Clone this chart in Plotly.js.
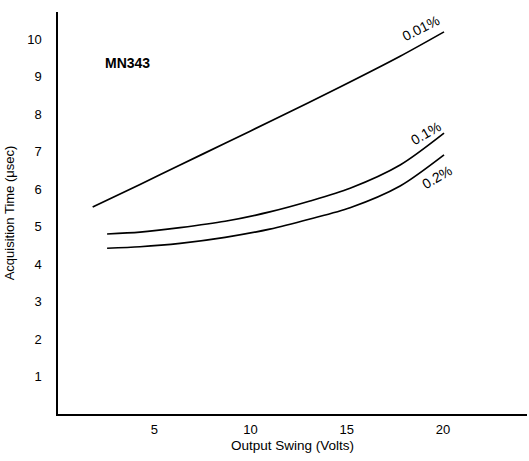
<!DOCTYPE html>
<html>
<head>
<meta charset="utf-8">
<script src="https://cdn.plot.ly/plotly-3.0.1.min.js"></script>
<style>
html,body{margin:0;padding:0;background:#fff;}
#chart{width:529px;height:461px;}
</style>
</head>
<body>
<div id="chart"></div>
<script>
// Output swing (V) vs acquisition time (µs), MN343
const x001 = [1.8, 4.26, 6.34, 8.68, 11.17, 14.65, 17.77, 20.05];
const y001 = [5.52, 6.12, 6.64, 7.22, 7.84, 8.72, 9.54, 10.19];
const x01 = [2.55, 4.26, 6.34, 8.68, 11.0, 13.09, 15.17, 17.77, 20.05];
const y01 = [4.80, 4.85, 4.97, 5.14, 5.39, 5.68, 6.02, 6.64, 7.49];
const x02 = [2.55, 4.26, 6.34, 8.68, 11.0, 13.09, 15.17, 17.77, 20.05];
const y02 = [4.42, 4.46, 4.55, 4.71, 4.93, 5.20, 5.50, 6.08, 6.91];
const xTicks = [5, 10, 15, 20];
const yTicks = [1, 2, 3, 4, 5, 6, 7, 8, 9, 10];
const curveLabels = ["0.01%", "0.1%", "0.2%"];

const line = {color: '#000', width: 1.7, shape: 'spline', smoothing: 0.8};
const traces = [
  {x: x001, y: y001, mode: 'lines', line: line, hoverinfo: 'skip'},
  {x: x01, y: y01, mode: 'lines', line: line, hoverinfo: 'skip'},
  {x: x02, y: y02, mode: 'lines', line: line, hoverinfo: 'skip'}
];

const font = {family: 'Liberation Sans, Arial, sans-serif', color: '#000', size: 13};

const layout = {
  width: 529, height: 461,
  margin: {l: 58, r: 2, t: 12, b: 47},
  paper_bgcolor: '#fff', plot_bgcolor: '#fff',
  showlegend: false,
  font: font,
  xaxis: {
    range: [0, 24.36], tickvals: xTicks, ticktext: xTicks.map(String),
    showgrid: false, zeroline: false, showline: true, linecolor: '#000', linewidth: 1.7,
    ticks: '', ticklabelstandoff: 3, tickfont: {size: 13},
    title: {text: 'Output Swing (Volts)', font: {size: 13.5}, standoff: 4}
  },
  yaxis: {
    range: [0, 10.72], tickvals: yTicks, ticktext: yTicks.map(String),
    showgrid: false, zeroline: false, showline: true, linecolor: '#000', linewidth: 1.7,
    ticks: '', ticklabelstandoff: 12, tickfont: {size: 13},
    title: {text: 'Acquisition Time (\u03bcsec)', font: {size: 13}, standoff: 10}
  },
  annotations: [
    {x: 2.34, y: 9.36, xref: 'x', yref: 'y', text: '<b>MN343</b>', showarrow: false,
     xanchor: 'left', yanchor: 'middle', font: {size: 14}},
    {x: 18.86, y: 10.29, xref: 'x', yref: 'y', text: curveLabels[0],
     showarrow: false, textangle: -27, font: {size: 14}},
    {x: 19.12, y: 7.49, xref: 'x', yref: 'y', text: curveLabels[1],
     showarrow: false, textangle: -30, font: {size: 14}},
    {x: 19.69, y: 6.32, xref: 'x', yref: 'y', text: curveLabels[2],
     showarrow: false, textangle: -30, font: {size: 14}}
  ]
};

Plotly.newPlot('chart', traces, layout, {staticPlot: true, displayModeBar: false});
</script>
</body>
</html>
